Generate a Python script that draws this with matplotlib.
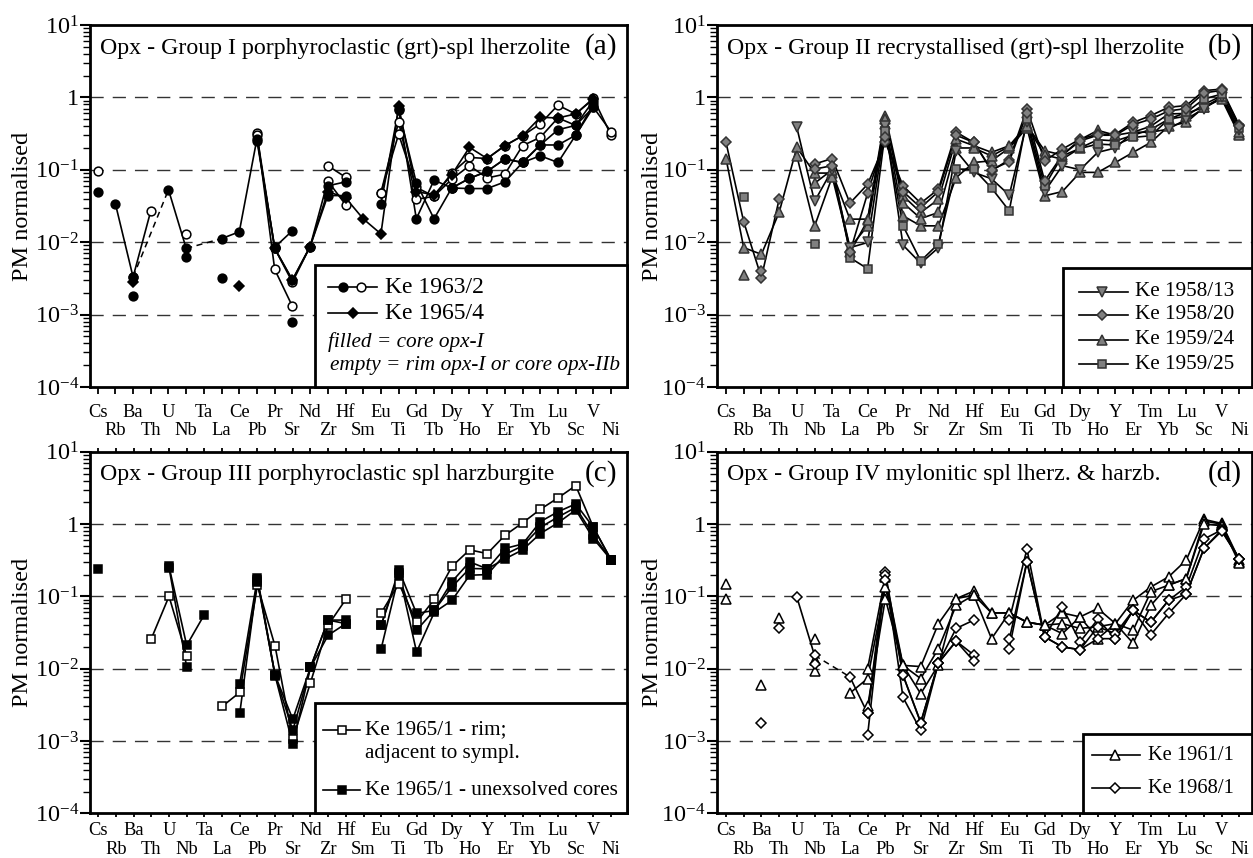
import numpy as np
import matplotlib
matplotlib.use('Agg')
import matplotlib.pyplot as plt
from matplotlib.patches import Rectangle
from matplotlib.lines import Line2D
from matplotlib.ticker import LogLocator, NullFormatter

plt.rcParams['font.family'] = 'Liberation Serif'
plt.rcParams['mathtext.fontset'] = 'custom'
plt.rcParams['mathtext.rm'] = 'Liberation Serif'
plt.rcParams['mathtext.it'] = 'Liberation Serif:italic'

nan = np.nan

# element order along the x axis
elements = ['Cs', 'Rb', 'Ba', 'Th', 'U', 'Nb', 'Ta', 'La', 'Ce', 'Pb', 'Pr', 'Sr', 'Nd', 'Zr', 'Hf',
            'Sm', 'Eu', 'Ti', 'Gd', 'Tb', 'Dy', 'Ho', 'Y', 'Er', 'Tm', 'Yb', 'Lu', 'Sc', 'V', 'Ni']

# Group I - Ke 1963/2 (filled = core opx-I, empty = rim opx-I / core opx-IIb), Ke 1965/4
g1_core_1 = [nan, 0.034, 0.0033, nan, 0.053, 0.0082, nan, 0.0112, 0.0139, 0.27, 0.0082, 0.003, 0.0087, 0.044, 0.044,
             nan, 0.034, 0.69, 0.021, 0.072, 0.056, 0.055, 0.055, 0.068, 0.126, 0.156, 0.126, 0.30, 0.73, nan]
g1_core_2 = [0.05, nan, 0.0018, nan, nan, 0.0062, nan, 0.0032, nan, 0.25, 0.0085, 0.0144, nan, 0.06, 0.068,
             nan, nan, 0.66, 0.066, 0.021, 0.056, 0.076, 0.095, 0.141, 0.126, 0.22, 0.22, 0.30, 0.8, nan]
g1_core_3 = [nan, nan, nan, nan, nan, nan, nan, nan, nan, nan, nan, 0.0008, nan, nan, nan,
             nan, nan, nan, nan, nan, 0.056, 0.076, 0.095, 0.141, 0.126, 0.22, 0.357, 0.41, 0.9, nan]
g1_rim_1 = [0.095, nan, 0.0033, 0.027, nan, 0.013, nan, nan, nan, 0.32, 0.0042, 0.0013, nan, 0.114, 0.079,
            nan, 0.048, 0.46, 0.039, 0.043, 0.09, 0.148, 0.143, 0.215, 0.295, 0.43, 0.78, 0.59, 0.97, 0.30]
g1_rim_2 = [nan, nan, nan, nan, nan, nan, nan, nan, nan, 0.30, 0.0082, 0.0028, 0.0087, 0.07, 0.033,
            nan, 0.048, 0.31, 0.057, 0.043, 0.074, 0.114, 0.077, 0.087, 0.215, 0.28, 0.52, 0.41, 0.73, 0.335]
g1_ke1965_4 = [nan, nan, 0.0028, nan, nan, nan, nan, nan, 0.0025, nan, 0.0082, 0.003, 0.0087, 0.05, 0.041,
               0.021, 0.013, 0.75, 0.05, 0.045, 0.085, 0.204, 0.143, 0.215, 0.295, 0.53, 0.52, 0.59, 0.95, nan]

# Group II
g2_1958_13 = [nan, nan, nan, nan, 0.385, 0.0365, 0.1, 0.0084, 0.0099, 0.4, 0.0091, 0.0051, 0.0084, 0.183, 0.092,
              0.075, 0.0447, 0.45, 0.05, 0.114, 0.1, 0.174, 0.2, 0.33, 0.33, 0.365, 0.5, 0.7, 1.0, 0.35]
g2_1958_20a = [0.239, 0.0191, 0.00325, 0.039, nan, 0.12, 0.143, 0.0346, 0.063, 0.239, 0.06, 0.0346, 0.054, 0.33, 0.239,
               0.097, 0.138, 0.69, 0.133, 0.193, 0.265, 0.31, 0.31, 0.45, 0.56, 0.73, 0.77, 1.24, 1.3, 0.41]
g2_1958_20b = [nan, nan, 0.004, nan, nan, 0.102, 0.114, 0.0072, 0.0475, 0.28, 0.05, 0.03, 0.05, 0.3, 0.239,
               0.1, 0.13, 0.6, 0.07, 0.16, 0.25, 0.3, 0.3, 0.42, 0.5, 0.65, 0.7, 1.15, 1.25, 0.4]
g2_1959_24a = [0.143, 0.0084, 0.0068, 0.0257, 0.204, 0.09, 0.09, 0.0208, 0.0208, 0.56, 0.0437, 0.0257, 0.039, 0.265, 0.215,
               0.174, 0.215, 0.41, 0.183, 0.16, 0.26, 0.35, 0.3, 0.33, 0.4, 0.59, 0.6, 0.73, 1.0, 0.31]
g2_1959_24b = [nan, 0.0035, nan, nan, 0.156, 0.0165, 0.08, 0.0084, 0.0168, 0.43, 0.0231, 0.0168, 0.0168, 0.078, 0.126,
               0.133, 0.2, 0.38, 0.0437, 0.05, 0.092, 0.092, 0.126, 0.174, 0.239, 0.4, 0.45, 0.73, 0.95, 0.3]
g2_1959_24c = [nan, nan, nan, nan, nan, 0.065, 0.1, 0.0072, 0.02, 0.5, 0.035, 0.0212, 0.0257, 0.2, 0.2,
               0.155, 0.21, 0.4, 0.16, 0.14, 0.2, 0.26, 0.25, 0.3, 0.36, 0.5, 0.55, 0.8, 1.05, 0.33]
g2_1959_25 = [nan, 0.0415, nan, nan, nan, 0.0095, nan, 0.0061, 0.0043, 0.346, 0.0168, 0.0055, 0.0095, 0.102, 0.102,
              0.056, 0.0271, 0.5, 0.06, 0.156, 0.197, 0.226, 0.22, 0.28, 0.295, 0.5, 0.62, 0.95, 1.11, 0.38]

# Group III - Ke 1965/1
g3_rim = [nan, nan, nan, 0.026, 0.1, 0.015, nan, 0.003, 0.0047, 0.142, 0.0204, 0.00105, 0.0064, 0.04, 0.091,
          nan, 0.059, 0.15, 0.044, 0.091, 0.26, 0.44, 0.39, 0.7, 1.04, 1.6, 2.3, 3.4, 0.9, 0.32]
g3_core_1 = [0.24, nan, nan, nan, 0.26, 0.021, 0.056, nan, 0.0062, 0.18, 0.0081, 0.002, 0.0104, 0.047, 0.047,
             nan, 0.04, 0.23, 0.058, 0.064, 0.16, 0.30, 0.24, 0.46, 0.53, 1.08, 1.48, 1.9, 0.9, 0.32]
g3_core_2 = [nan, nan, nan, nan, 0.25, 0.0105, nan, nan, 0.0024, 0.17, 0.008, 0.0009, 0.0104, 0.029, 0.042,
             nan, 0.019, 0.196, 0.034, 0.064, 0.135, 0.243, 0.24, 0.33, 0.44, 0.74, 1.04, 1.57, 0.63, 0.32]
g3_core_3 = [nan, nan, nan, nan, nan, nan, nan, nan, nan, 0.16, 0.0081, 0.0014, 0.0104, 0.047, 0.042,
             nan, 0.04, 0.21, 0.017, 0.06, 0.088, 0.196, 0.2, 0.38, 0.5, 0.9, 1.25, 1.7, 0.7, 0.32]

# Group IV
g4_1961_1a = [0.148, nan, nan, 0.051, nan, 0.026, nan, nan, 0.01, 0.186, 0.0111, 0.0107, 0.042, 0.093, 0.118,
              0.059, 0.059, 0.044, 0.04, 0.059, 0.052, 0.068, 0.042, 0.088, 0.135, 0.186, 0.317, 1.16, 1.02, 0.317]
g4_1961_1b = [0.093, nan, 0.0059, nan, nan, 0.013, nan, 0.0046, 0.0073, 0.135, 0.0111, 0.0073, 0.019, 0.075, 0.104,
              0.026, 0.059, 0.044, 0.04, 0.042, 0.036, 0.038, 0.042, 0.034, 0.116, 0.143, 0.176, 1.1, 1.0, 0.3]
g4_1961_1c = [nan, nan, nan, nan, nan, 0.0093, nan, nan, 0.003, 0.093, 0.0111, 0.0045, 0.0113, 0.093, 0.104,
              0.059, 0.059, 0.044, 0.04, 0.0305, 0.052, 0.026, 0.042, 0.0225, 0.075, 0.143, 0.176, 1.0, 0.95, 0.285]
g4_1968_1a = [nan, nan, nan, nan, 0.098, 0.0153, nan, 0.0077, 0.0024, 0.22, 0.0081, 0.0018, 0.012, 0.036, 0.047,
              nan, 0.047, 0.45, 0.0275, 0.071, 0.0235, 0.048, 0.026, 0.064, 0.044, 0.088, 0.135, 0.62, 0.83, 0.33]
g4_1968_1b = [nan, nan, 0.0018, nan, nan, 0.0117, nan, nan, 0.0012, 0.2, 0.004, 0.0014, 0.012, 0.024, 0.0155,
              nan, 0.0254, 0.30, 0.0275, 0.02, 0.0183, 0.038, 0.0305, 0.064, 0.0295, 0.058, 0.107, 0.46, 0.83, 0.33]
g4_1968_1c = [nan, nan, nan, 0.037, nan, nan, nan, nan, 0.0024, 0.17, 0.0081, 0.0018, 0.012, 0.024, 0.0127,
              nan, 0.019, 0.3, 0.0275, 0.02, 0.0183, 0.026, 0.026, 0.064, 0.044, 0.088, 0.107, 0.46, 0.8, 0.33]

ytick_vals = [1e-4, 1e-3, 1e-2, 1e-1, 1, 10]
ytick_labels = [r'$\mathregular{10^{-4}}$', r'$\mathregular{10^{-3}}$', r'$\mathregular{10^{-2}}$',
                r'$\mathregular{10^{-1}}$', '1', r'$\mathregular{10^{1}}$']

x = np.arange(len(elements))
GREY = '#808080'

fig = plt.figure(figsize=(12.53, 8.58), dpi=100)


def setup_axes(rect, xlim, top_ticks, label_x, tick_len, pad1, pad2):
    ax = fig.add_axes(rect)
    ax.set_yscale('log')
    ax.set_ylim(1e-4, 10)
    ax.set_xlim(*xlim)
    # element names in two staggered rows: even positions on major ticks, odd on minor ticks
    ax.set_xticks(x[::2])
    ax.set_xticklabels(elements[::2])
    ax.set_xticks(x[1::2], minor=True)
    ax.set_xticklabels(elements[1::2], minor=True)
    ax.set_yticks(ytick_vals)
    ax.set_yticklabels(ytick_labels)
    ax.yaxis.set_minor_locator(LogLocator(base=10, subs=np.arange(2, 10), numticks=20))
    ax.yaxis.set_minor_formatter(NullFormatter())
    ax.tick_params(axis='x', which='both', direction='out', length=tick_len, width=1.3,
                   labelsize=13.3, top=top_ticks)
    ax.tick_params(axis='x', which='major', pad=pad1)
    ax.tick_params(axis='x', which='minor', pad=pad2)
    ax.tick_params(axis='y', which='major', direction='out', length=7, width=1.5, labelsize=17.5, pad=1)
    ax.tick_params(axis='y', which='minor', direction='out', length=5, width=1.0)
    for s in ax.spines.values():
        s.set_linewidth(2)
    for v in [1, 0.1, 0.01, 0.001]:
        ax.axhline(v, color='#333333', lw=1.0, dashes=(9.5, 6.5), zorder=1)
    ax.set_ylabel('PM normalised', fontsize=17.5)
    ax.yaxis.set_label_coords(label_x, 0.5)
    return ax


def draw(ax, vals, marker, ms, mfc, mec='k', z=3, bridges=()):
    v = np.array(vals, dtype=float)
    ax.plot(x, v, color='k', lw=1.2, zorder=2)
    ax.plot(x, v, ls='none', marker=marker, ms=ms, mfc=mfc, mec=mec, mew=1.1, zorder=z)
    for i, j in bridges:
        ax.plot([x[i], x[j]], [v[i], v[j]], color='k', lw=1.1, dashes=(4, 3), zorder=2)


def legend_box(ax, x0, y_top):
    ax.add_patch(Rectangle((x0, 0), 1 - x0, y_top, transform=ax.transAxes, fc='white', ec='k',
                           lw=2, zorder=5, clip_on=False))


def legend_key(ax, x0, x1, y, keys):
    ax.add_line(Line2D([x0, x1], [y, y], transform=ax.transAxes, color='k', lw=1.2, zorder=6))
    for xm, marker, ms, mfc, mec in keys:
        ax.add_line(Line2D([xm], [y], transform=ax.transAxes, ls='none', marker=marker, ms=ms,
                           mfc=mfc, mec=mec, mew=1.1, zorder=7))


def panel_text(ax, title, letter):
    ax.text(0.019, 0.936, title, transform=ax.transAxes, fontsize=17.2, va='center', ha='left', zorder=8)
    ax.text(0.981, 0.94, letter, transform=ax.transAxes, fontsize=21, va='center', ha='right', zorder=8)


# ---- (a) Group I ----
ax = setup_axes([0.0718, 0.549, 0.4286, 0.4219], (-0.435, 29.9), False, -0.106, 5, 7, 20.4)
draw(ax, g1_rim_1, 'o', 6.3, 'white', z=3)
draw(ax, g1_rim_2, 'o', 6.3, 'white', z=3)
draw(ax, g1_ke1965_4, 'D', 5, 'k', z=3.5)
draw(ax, g1_core_1, 'o', 6.3, 'k', z=4, bridges=[(2, 4), (5, 7)])
draw(ax, g1_core_2, 'o', 6.3, 'k', z=4)
draw(ax, g1_core_3, 'o', 6.3, 'k', z=4)
panel_text(ax, 'Opx - Group I porphyroclastic (grt)-spl lherzolite', '(a)')
legend_box(ax, 0.419, 0.337)
legend_key(ax, 0.443, 0.534, 0.276, [(0.471, 'o', 6.3, 'k', 'k'), (0.505, 'o', 6.3, 'white', 'k')])
ax.text(0.549, 0.276, 'Ke 1963/2', transform=ax.transAxes, fontsize=17, va='center', zorder=8)
legend_key(ax, 0.443, 0.534, 0.204, [(0.490, 'D', 5, 'k', 'k')])
ax.text(0.549, 0.204, 'Ke 1965/4', transform=ax.transAxes, fontsize=17, va='center', zorder=8)
ax.text(0.443, 0.124, 'filled = core opx-I', transform=ax.transAxes, fontsize=15.3,
        style='italic', va='center', zorder=8)
ax.text(0.447, 0.058, 'empty = rim opx-I or core opx-IIb', transform=ax.transAxes, fontsize=15.3,
        style='italic', va='center', zorder=8)

# ---- (b) Group II ----
ax = setup_axes([0.572, 0.549, 0.427, 0.4219], (-0.525, 29.7), False, -0.100, 5, 7, 20.4)
draw(ax, g2_1959_24a, '^', 7, GREY, '#333333')
draw(ax, g2_1959_24b, '^', 7, GREY, '#333333')
draw(ax, g2_1959_24c, '^', 7, GREY, '#333333')
draw(ax, g2_1958_13, 'v', 7, GREY, '#333333')
draw(ax, g2_1959_25, 's', 5.8, GREY, '#333333')
draw(ax, g2_1958_20a, 'D', 4.8, GREY, '#333333')
draw(ax, g2_1958_20b, 'D', 4.8, GREY, '#333333')
panel_text(ax, 'Opx - Group II recrystallised (grt)-spl lherzolite', '(b)')
legend_box(ax, 0.648, 0.329)
for yk, mk, ms, lab in [(0.263, 'v', 7, 'Ke 1958/13'), (0.199, 'D', 4.8, 'Ke 1958/20'),
                        (0.130, '^', 7, 'Ke 1959/24'), (0.063, 's', 5.8, 'Ke 1959/25')]:
    legend_key(ax, 0.677, 0.769, yk, [(0.72, mk, ms, GREY, '#333333')])
    ax.text(0.782, yk, lab, transform=ax.transAxes, fontsize=15.2, va='center', zorder=8)

# ---- (c) Group III ----
ax = setup_axes([0.0718, 0.0521, 0.4286, 0.4214], (-0.47, 29.9), True, -0.106, 3, 3.4, 16.7)
draw(ax, g3_core_1, 's', 6, 'k', z=4)
draw(ax, g3_core_2, 's', 6, 'k', z=4)
draw(ax, g3_core_3, 's', 6, 'k', z=4)
draw(ax, g3_rim, 's', 6, 'white', z=3)
panel_text(ax, 'Opx - Group III porphyroclastic spl harzburgite', '(c)')
legend_box(ax, 0.419, 0.306)
legend_key(ax, 0.434, 0.503, 0.230, [(0.47, 's', 6, 'white', 'k')])
ax.text(0.512, 0.230, 'Ke 1965/1 - rim;', transform=ax.transAxes, fontsize=15.2, va='center', zorder=8)
ax.text(0.512, 0.166, 'adjacent to sympl.', transform=ax.transAxes, fontsize=15.2, va='center', zorder=8)
legend_key(ax, 0.434, 0.503, 0.064, [(0.47, 's', 6, 'k', 'k')])
ax.text(0.512, 0.064, 'Ke 1965/1 - unexsolved cores', transform=ax.transAxes, fontsize=15.2,
        va='center', zorder=8)

# ---- (d) Group IV ----
ax = setup_axes([0.572, 0.0521, 0.427, 0.4214], (-0.525, 29.7), True, -0.100, 3, 3.4, 16.7)
draw(ax, g4_1961_1a, '^', 7, 'white')
draw(ax, g4_1961_1b, '^', 7, 'white')
draw(ax, g4_1961_1c, '^', 7, 'white')
draw(ax, g4_1968_1a, 'D', 5, 'white', bridges=[(5, 7)])
draw(ax, g4_1968_1b, 'D', 5, 'white')
draw(ax, g4_1968_1c, 'D', 5, 'white')
panel_text(ax, 'Opx - Group IV mylonitic spl lherz. & harzb.', '(d)')
legend_box(ax, 0.685, 0.218)
legend_key(ax, 0.7015, 0.791, 0.161, [(0.745, '^', 7, 'white', 'k')])
ax.text(0.806, 0.161, 'Ke 1961/1', transform=ax.transAxes, fontsize=14.8, va='center', zorder=8)
legend_key(ax, 0.7015, 0.791, 0.069, [(0.745, 'D', 5, 'white', 'k')])
ax.text(0.806, 0.069, 'Ke 1968/1', transform=ax.transAxes, fontsize=14.8, va='center', zorder=8)

fig.savefig('out.png', dpi=100)
